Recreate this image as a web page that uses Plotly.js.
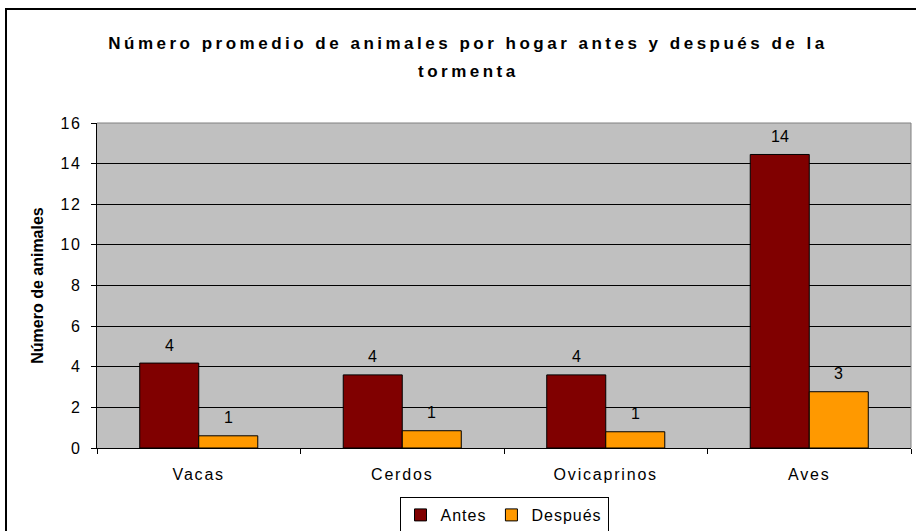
<!DOCTYPE html>
<html>
<head>
<meta charset="utf-8">
<script src="https://cdn.plot.ly/plotly-3.0.1.min.js"></script>
<style>
  html, body { margin: 0; padding: 0; background: #fff; }
  #chart { width: 916px; height: 531px; }
  .gtitle { letter-spacing: 3.5px; }
  .annotation[data-index="0"] text { letter-spacing: 3.5px; }
  .xtick text, .ytick text { letter-spacing: 1.8px; }
  .legendtext { letter-spacing: 1px; }
</style>
</head>
<body>
<div id="chart"></div>
<script>
// ---- data ----
const categories = ["Vacas", "Cerdos", "Ovicaprinos", "Aves"];
const seriesNames = ["Antes", "Después"];
const antes = [4.18, 3.6, 3.6, 14.45];
const despues = [0.6, 0.85, 0.8, 2.77];
const titleLine1 = "Número promedio de animales por hogar antes y después de la";
const titleLine2 = "tormenta";
const yTitle = "Número de animales";

// ---- layout constants ----
const W = 916, H = 531;
const margin = { l: 97, r: 5, t: 123, b: 83, autoexpand: false };
const plotW = W - margin.l - margin.r;
const plotH = H - margin.t - margin.b;
const bargap = 0.42;
const fontFamily = "Liberation Sans, Arial, sans-serif";
const colors = ["#800000", "#FF9900"];

const seriesValues = [antes, despues];
const traces = seriesValues.map((vals, i) => ({
  type: "bar",
  name: seriesNames[i],
  x: categories,
  y: vals,
  marker: { color: colors[i], line: { color: "#000000", width: 1 } },
  hoverinfo: "x+y+name"
}));

// px -> paper helpers
const px2x = p => (p - margin.l) / plotW;
const py2y = p => (H - margin.b - p) / plotH;

const catPx = plotW / categories.length;
const barPx = catPx * (1 - bargap) / seriesValues.length;

const annotations = [{
  text: titleLine2,
  xref: "paper", yref: "paper",
  x: px2x(468), y: py2y(71),
  xanchor: "center", yanchor: "middle",
  showarrow: false,
  font: { family: fontFamily, size: 17, color: "#000", weight: "bold" }
}];

seriesValues.forEach((vals, i) => {
  vals.forEach((v, j) => {
    annotations.push({
      x: categories[j], y: v,
      xref: "x", yref: "y",
      text: String(Math.round(v)),
      showarrow: false,
      xanchor: "center", yanchor: "middle",
      xshift: (i - 0.5) * barPx,
      yshift: 18,
      font: { family: fontFamily, size: 16, color: "#000" }
    });
  });
});

const layout = {
  width: W, height: H,
  margin: margin,
  paper_bgcolor: "#ffffff",
  plot_bgcolor: "#C0C0C0",
  font: { family: fontFamily, size: 16, color: "#000" },
  title: {
    text: titleLine1,
    font: { family: fontFamily, size: 17, color: "#000", weight: "bold" },
    x: 468 / W, xanchor: "center", xref: "container",
    y: 1 - 43 / H, yanchor: "middle", yref: "container"
  },
  barmode: "group",
  bargap: bargap,
  bargroupgap: 0,
  showlegend: true,
  legend: {
    orientation: "h",
    x: 0.5, xanchor: "center",
    y: py2y(497), yanchor: "top",
    bordercolor: "#000", borderwidth: 1, bgcolor: "#fff",
    font: { family: fontFamily, size: 16, color: "#000" },
    itemwidth: 30,
    traceorder: "normal"
  },
  xaxis: {
    type: "category",
    tickson: "boundaries",
    ticks: "outside", ticklen: 5, tickcolor: "#000", tickwidth: 1,
    showline: true, linecolor: "#000", linewidth: 1,
    showgrid: false, zeroline: false,
    ticklabelstandoff: 12,
    tickfont: { family: fontFamily, size: 16, color: "#000" },
    fixedrange: true
  },
  yaxis: {
    range: [0, 16], dtick: 2, tick0: 0,
    ticks: "outside", ticklen: 5, tickcolor: "#000", tickwidth: 1,
    showline: true, linecolor: "#000", linewidth: 1,
    showgrid: true, gridcolor: "#000", gridwidth: 1,
    zeroline: false,
    ticklabelstandoff: 6,
    tickfont: { family: fontFamily, size: 16, color: "#000" },
    title: {
      text: yTitle, standoff: 12,
      font: { family: fontFamily, size: 16, color: "#000", weight: "bold" }
    },
    fixedrange: true
  },
  annotations: annotations,
  shapes: [
    { type: "path", xref: "paper", yref: "paper",
      path: "M0,1 L1,1 L1,0", line: { color: "#808080", width: 1 }, layer: "above" },
    { type: "rect", xref: "paper", yref: "paper",
      x0: px2x(6), x1: px2x(925), y0: py2y(540), y1: py2y(9),
      line: { color: "#000", width: 2 }, fillcolor: "rgba(0,0,0,0)", layer: "above" }
  ]
};

Plotly.newPlot("chart", traces, layout, { displayModeBar: false, staticPlot: false });
</script>
</body>
</html>
